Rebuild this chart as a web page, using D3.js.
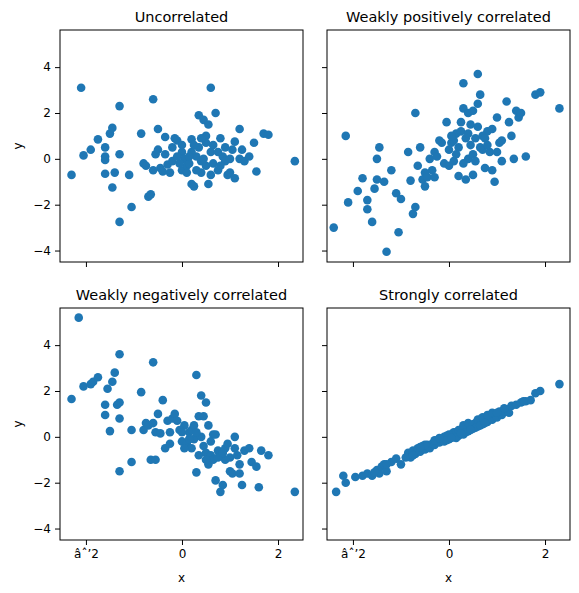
<!DOCTYPE html><html><head><script src="https://cdn.jsdelivr.net/npm/d3@7"></script>
<style>body{margin:0;background:#fff}text{font-family:"DejaVu Sans",sans-serif}</style></head><body><svg id="c" width="579" height="593"></svg>
<script>
const titles=["Uncorrelated","Weakly positively correlated","Weakly negatively correlated","Strongly correlated"];
const xTicks=[-2,0,2];
const yTicks=[-4,-2,0,2,4];
const uncorrelated=[[-2.3,-0.7],[-2.1,3.1],[-2.05,0.15],[-1.9,0.4],[-1.75,0.85],[-1.6,0.5],[-1.6,-0.05],[-1.6,-0.65],[-1.5,1.1],[-1.45,1.35],[-1.45,-1.25],[-1.4,-0.6],[-1.3,2.3],[-1.3,0.2],[-1.3,-2.75],[-1.1,-0.7],[-1.05,-2.1],[-0.85,1.1],[-0.8,-0.2],[-0.75,-0.3],[-0.7,-1.65],[-0.65,-1.55],[-0.6,2.6],[-0.55,0.2],[-0.5,1.3],[-0.5,0.4],[-0.45,-0.4],[-0.4,-0.55],[-0.35,0.95],[-0.3,-0.25],[-0.25,-0.6],[-0.2,-0.1],[-0.15,0.9],[-0.1,0.8],[0,-0.5],[0,0.3],[0.05,0],[0.1,-0.3],[0.15,-0.2],[0.2,0.85],[0.2,-1.1],[0.25,-1.2],[0.3,0.1],[0.35,1.9],[0.35,0.5],[0.4,-0.1],[0.4,-0.6],[0.45,1.7],[0.5,1.0],[0.5,-0.3],[0.55,1.5],[0.55,-1.1],[0.6,3.1],[0.6,0.3],[0.65,-0.2],[0.7,2.0],[0.75,-0.5],[0.8,0.9],[0.85,0.1],[0.9,-0.1],[0.95,-0.7],[1.0,-0.6],[1.05,0.4],[1.1,0.75],[1.1,-0.85],[1.2,1.3],[1.2,0],[1.25,0.4],[1.3,-0.1],[1.4,0.1],[1.5,0.7],[1.55,-0.55],[1.7,1.1],[1.8,1.05],[2.35,-0.1],[0.0,0.6],[-0.2,0.5],[0.2,0.3],[0.3,-0.5],[0.45,0.0],[0.6,-0.7],[0.75,0.3],[-0.05,-0.2],[0.15,0.1],[0.9,0.5],[-0.6,-0.5],[-0.35,0.2],[0.5,0.7],[0.25,0.6],[1.0,0.0],[-1.6,0.1],[0.4,0.9],[0.1,-0.6],[-0.1,0.1],[0.65,0.6],[0.8,-0.3]];
const weakPositive=[[-2.4,-3.0],[-2.15,1.0],[-2.1,-1.9],[-1.9,-1.4],[-1.8,-0.85],[-1.7,-1.8],[-1.7,-2.2],[-1.6,-2.75],[-1.55,-1.3],[-1.5,-0.9],[-1.5,0],[-1.45,0.5],[-1.35,-1.0],[-1.3,-4.05],[-1.2,-0.5],[-1.1,-1.5],[-1.05,-3.2],[-1.0,-1.75],[-0.85,0.3],[-0.8,-0.95],[-0.75,-2.4],[-0.7,-2.1],[-0.7,2.0],[-0.65,-0.3],[-0.6,0.5],[-0.55,-0.9],[-0.5,-0.6],[-0.45,-0.8],[-0.4,0],[-0.35,-0.5],[-0.3,0.3],[-0.2,0.8],[-0.15,0.7],[-0.1,-0.2],[-0.05,1.6],[0,0.4],[0.05,0.7],[0.1,-0.1],[0.15,1.1],[0.2,-0.75],[0.25,1.2],[0.3,2.2],[0.3,3.3],[0.35,-0.9],[0.4,0],[0.4,2.0],[0.45,1.5],[0.5,0.2],[0.5,-0.7],[0.55,0.9],[0.6,3.7],[0.6,2.4],[0.65,2.8],[0.7,0.4],[0.75,-0.4],[0.8,1.2],[0.85,0.3],[0.9,-0.5],[0.95,-1.0],[1.0,1.8],[1.05,0.7],[1.1,-0.1],[1.2,2.5],[1.25,1.6],[1.4,2.1],[1.45,1.8],[1.5,2.0],[1.6,0.1],[1.8,2.8],[1.9,2.9],[2.3,2.2],[0.1,0.8],[0.2,0.5],[0.3,-0.2],[-0.25,0.1],[0.45,0.6],[0.55,-0.1],[0.7,1.0],[0.15,0.2],[0.35,0.9],[0.65,0.5],[0.8,0.6],[1.3,1.0],[1.0,0.3],[-0.5,-1.2],[0.0,-0.3],[0.25,1.6],[0.9,1.3],[1.1,0.8],[0.4,1.1],[-0.3,-0.8],[0.6,1.4],[1.35,0],[0.05,1.0],[0.5,2.1],[0.75,0.9]];
const weakNegative=[[-2.3,1.65],[-2.15,5.2],[-2.05,2.2],[-1.9,2.3],[-1.85,2.4],[-1.75,2.6],[-1.6,1.4],[-1.6,0.95],[-1.55,2.1],[-1.5,0.25],[-1.45,2.4],[-1.4,2.8],[-1.35,1.4],[-1.3,3.6],[-1.3,1.5],[-1.3,-1.5],[-1.3,0.8],[-1.05,0.3],[-1.05,-1.1],[-0.85,1.95],[-0.8,0.3],[-0.75,0.6],[-0.7,0.5],[-0.65,-1.0],[-0.6,3.25],[-0.55,-1.0],[-0.55,0.2],[-0.5,1.0],[-0.45,0.15],[-0.4,1.6],[-0.35,-0.5],[-0.3,0.7],[-0.25,0.2],[-0.2,0.8],[-0.15,1.0],[-0.1,0.7],[0,-0.2],[0.05,0.5],[0.1,-0.3],[0.15,0.2],[0.2,-0.5],[0.25,-0.1],[0.3,2.7],[0.3,-1.55],[0.35,0.9],[0.4,1.8],[0.45,-0.4],[0.5,-0.7],[0.5,1.5],[0.55,-1.2],[0.6,-0.8],[0.65,0.1],[0.7,-1.9],[0.75,-0.6],[0.8,-2.4],[0.85,-2.1],[0.9,-0.5],[1.0,-0.9],[1.0,-1.5],[1.05,-1.6],[1.1,0],[1.15,-0.8],[1.2,-1.2],[1.25,-2.1],[1.3,-0.6],[1.45,-1.1],[1.55,-1.3],[1.6,-2.2],[1.65,-0.6],[1.8,-0.8],[2.35,-2.4],[0.2,0.3],[0.4,0.0],[0.6,-0.2],[0.7,0.1],[0.8,-0.8],[0.9,-1.0],[-0.05,0.3],[0.15,-0.1],[0.55,0.5],[0.35,-0.8],[1.4,-0.5],[0.95,-0.3],[-0.6,0.6],[0.0,0.2],[0.45,0.9],[0.65,-1.0],[1.1,-0.5],[0.25,0.5],[0.75,-0.9],[0.5,-1.0],[-0.25,-0.3],[0.3,0.2],[1.2,-1.6],[0.05,-0.5],[0.85,-0.7]];
const strong=[[-2.35,-2.4],[-2.2,-1.7],[-2.15,-2.0],[-1.95,-1.75],[-1.8,-1.7],[-1.7,-1.6],[-1.6,-1.7],[-1.5,-1.45],[-1.45,-1.6],[-1.4,-1.3],[-1.35,-1.2],[-1.3,-1.5],[-1.2,-1.1],[-1.1,-0.95],[-1.0,-1.2],[-0.85,-0.7],[-0.8,-0.9],[-0.75,-0.6],[-0.7,-0.75],[-0.65,-0.5],[-0.6,-0.65],[-0.55,-0.4],[-0.5,-0.55],[-0.45,-0.35],[-0.4,-0.5],[-0.35,-0.3],[-0.3,-0.35],[-0.25,-0.15],[-0.2,-0.25],[-0.15,-0.1],[-0.1,-0.2],[-0.05,0.05],[0,-0.1],[0.05,0.1],[0.1,0],[0.15,0.2],[0.2,0.05],[0.25,0.3],[0.3,0.1],[0.35,0.4],[0.4,0.25],[0.45,0.5],[0.5,0.35],[0.55,0.6],[0.6,0.45],[0.65,0.75],[0.7,0.55],[0.75,0.8],[0.8,0.65],[0.85,0.9],[0.9,0.75],[0.95,1.0],[1.0,0.85],[1.05,1.1],[1.1,0.95],[1.2,1.2],[1.25,1.05],[1.3,1.35],[1.4,1.4],[1.5,1.5],[1.6,1.55],[1.7,1.6],[1.8,1.9],[1.9,2.0],[2.3,2.3],[0.1,0.2],[0.2,0.3],[0.3,0.5],[-0.1,0],[0.0,0.1],[0.4,0.6],[0.5,0.55],[0.6,0.75],[0.7,0.85],[0.15,-0.05],[-0.3,-0.15],[-0.5,-0.35],[-0.9,-0.9],[-1.3,-1.2],[0.8,0.95],[0.9,1.05],[1.15,1.25],[0.35,0.2],[0.25,0.15],[-0.05,-0.15],[-0.6,-0.45],[0.55,0.4],[0.65,0.5],[1.0,1.05],[-0.75,-0.8],[0.45,0.3],[-0.2,-0.05],[1.55,1.55],[-1.55,-1.55],[0.05,-0.05],[0.75,0.6]];
const series=[uncorrelated,weakPositive,weakNegative,strong];
const svg=d3.select("#c");
const boxes=[[60,30],[327,30],[60,308],[327,308]];
const W=243,H=232;
const x=d3.scaleLinear().domain([-2.54,2.52]).range([0,W]);
const y=d3.scaleLinear().domain([-4.5,5.62]).range([H,0]);
series.forEach((data,i)=>{
  const [L,T]=boxes[i];
  const g=svg.append("g").attr("transform",`translate(${L},${T})`);
  g.selectAll("circle").data(data).join("circle").attr("cx",d=>x(d[0])).attr("cy",d=>y(d[1])).attr("r",4.3).attr("fill","#1f77b4");
  const bottom=i>=2,left=i%2==0;
  const xa=g.append("g").attr("transform",`translate(0,${H})`).call(d3.axisBottom(x).tickValues(xTicks).tickSize(5).tickPadding(4).tickFormat(bottom?(d=>d3.format("")(d).replace("-","\u2212")):""));
  const ya=g.append("g").call(d3.axisLeft(y).tickValues(yTicks).tickSize(5).tickPadding(4).tickFormat(left?(d=>String(d).replace("-","\u2212")):""));
  [xa,ya].forEach(a=>{a.select(".domain").remove();a.selectAll("text").attr("font-size",12).attr("font-family","DejaVu Sans").attr("fill","#000");a.selectAll("line").attr("stroke","#000");});
  g.append("rect").attr("width",W).attr("height",H).attr("fill","none").attr("stroke","#000").attr("stroke-width",1);
  g.append("text").attr("x",W/2).attr("y",-8).attr("text-anchor","middle").attr("font-size",14.5).text(titles[i]);
  if(bottom) g.append("text").attr("x",W/2).attr("y",H+42).attr("text-anchor","middle").attr("font-size",12).text("x");
  if(left) g.append("text").attr("transform",`translate(-38,${H/2}) rotate(-90)`).attr("text-anchor","middle").attr("font-size",12).text("y");
});
</script></body></html>
